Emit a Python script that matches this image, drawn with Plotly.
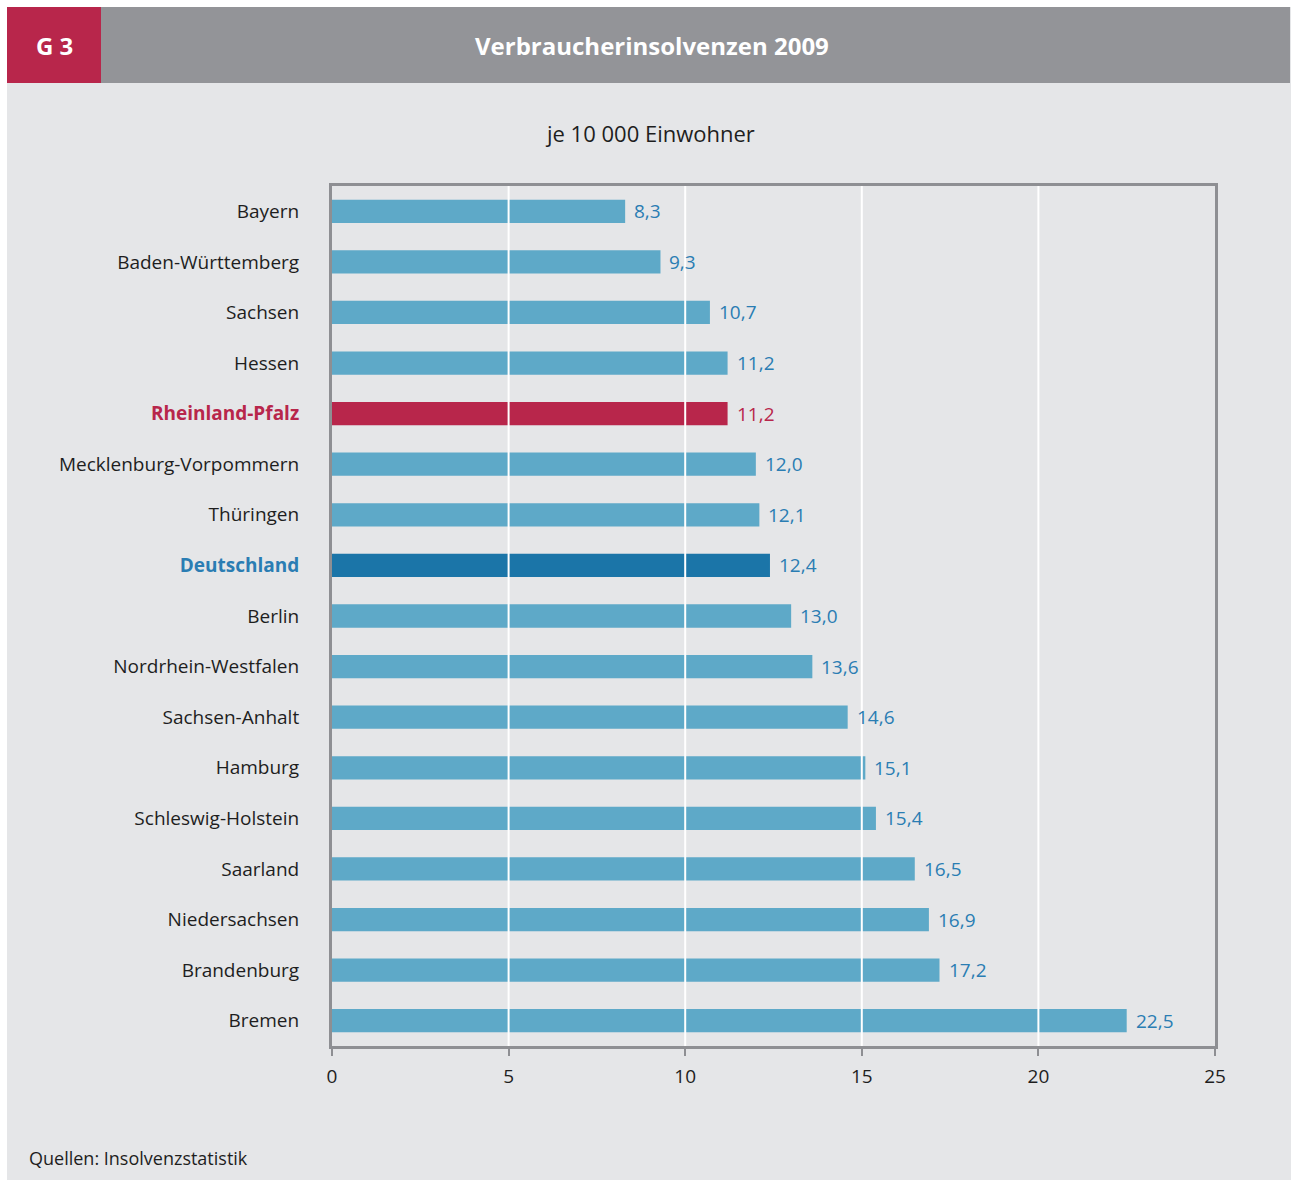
import plotly.graph_objects as go

categories = ["Bayern", "Baden-Württemberg", "Sachsen", "Hessen", "Rheinland-Pfalz",
              "Mecklenburg-Vorpommern", "Thüringen", "Deutschland", "Berlin",
              "Nordrhein-Westfalen", "Sachsen-Anhalt", "Hamburg", "Schleswig-Holstein",
              "Saarland", "Niedersachsen", "Brandenburg", "Bremen"]
values = [8.3, 9.3, 10.7, 11.2, 11.2, 12.0, 12.1, 12.4, 13.0, 13.6, 14.6, 15.1, 15.4,
          16.5, 16.9, 17.2, 22.5]
x_ticks = [0, 5, 10, 15, 20, 25]
title = "Verbraucherinsolvenzen 2009"
subtitle = "je 10 000 Einwohner"
source = "Quellen: Insolvenzstatistik"
badge = "G 3"

RED = "#B8264B"
BAR = "#5EA9C8"
DARKBLUE = "#1B75A8"
LABELBLUE = "#2A7DB3"
TEXT = "#1E1E1E"
BG = "#E5E6E8"
HEADER = "#939498"
FRAME = "#8E8F93"

W, H = 1291, 1180
L, R, T, B = 332, 1215, 186, 1046

bar_colors, text_colors, ticktext = [], [], []
for c in categories:
    if c == "Rheinland-Pfalz":
        bar_colors.append(RED); text_colors.append(RED)
        ticktext.append(f"<span style='color:{RED}'><b>{c}</b></span>")
    elif c == "Deutschland":
        bar_colors.append(DARKBLUE); text_colors.append(LABELBLUE)
        ticktext.append(f"<span style='color:{LABELBLUE}'><b>{c}</b></span>")
    else:
        bar_colors.append(BAR); text_colors.append(LABELBLUE)
        ticktext.append(c)

fig = go.Figure(go.Bar(
    x=values, y=categories, orientation="h",
    marker=dict(color=bar_colors, line=dict(width=0)),
    width=0.46,
    hoverinfo="skip",
))

def px_x(p):
    return (p - L) / (R - L)

def px_y(p):
    return (B - p) / (B - T)

shapes = []
# white outer border
shapes.append(dict(type="rect", xref="paper", yref="paper", x0=px_x(0), x1=px_x(W), y0=px_y(0), y1=px_y(7),
                   fillcolor="white", line=dict(width=0), layer="below"))
shapes.append(dict(type="rect", xref="paper", yref="paper", x0=px_x(0), x1=px_x(7), y0=px_y(0), y1=px_y(H),
                   fillcolor="white", line=dict(width=0), layer="below"))
# header
shapes.append(dict(type="rect", xref="paper", yref="paper", x0=px_x(7), x1=px_x(101), y0=px_y(7), y1=px_y(83),
                   fillcolor=RED, line=dict(width=0), layer="below"))
shapes.append(dict(type="rect", xref="paper", yref="paper", x0=px_x(101), x1=px_x(1290), y0=px_y(7), y1=px_y(83),
                   fillcolor=HEADER, line=dict(width=0), layer="below"))
# white gridlines above bars
for t in x_ticks[1:-1]:
    shapes.append(dict(type="line", xref="x", yref="paper", x0=t, x1=t, y0=0, y1=1,
                       line=dict(color="white", width=2), layer="above"))

annotations = [
    dict(text=f"<b>{badge}</b>", x=px_x(54), y=px_y(45), xref="paper", yref="paper",
         showarrow=False, font=dict(color="white", size=24, family="Open Sans"),
         xanchor="center", yanchor="middle"),
    dict(text=f"<b>{title}</b>", x=px_x(652), y=px_y(45), xref="paper", yref="paper",
         showarrow=False, font=dict(color="white", size=24, family="Open Sans"),
         xanchor="center", yanchor="middle"),
    dict(text=subtitle, x=px_x(650), y=px_y(133), xref="paper", yref="paper",
         showarrow=False, font=dict(color=TEXT, size=22, family="Open Sans"),
         xanchor="center", yanchor="middle"),
    dict(text=source, x=px_x(27), y=px_y(1158), xref="paper", yref="paper",
         showarrow=False, font=dict(color=TEXT, size=18, family="Open Sans"),
         xanchor="left", yanchor="middle"),
]
# value labels (annotations so they sit above the white gridlines)
for c, v, col in zip(categories, values, text_colors):
    annotations.append(dict(text=f"{v:.1f}".replace(".", ","), x=v, y=c, xref="x", yref="y",
                            showarrow=False, xanchor="left", yanchor="middle", xshift=7,
                            font=dict(color=col, size=19, family="Open Sans")))

fig.update_layout(
    width=W, height=H,
    margin=dict(l=L, r=W - R, t=T, b=H - B, pad=0),
    paper_bgcolor=BG, plot_bgcolor=BG,
    showlegend=False,
    shapes=shapes,
    annotations=annotations,
    font=dict(family="Open Sans", color=TEXT, size=19),
    xaxis=dict(range=[0, 25], tickvals=x_ticks, ticktext=[str(t) for t in x_ticks],
               showgrid=False, zeroline=False, showline=True, mirror=True,
               linecolor=FRAME, linewidth=3, ticks="outside", ticklen=7, tickwidth=2,
               tickcolor=FRAME, ticklabelstandoff=4,
               tickfont=dict(size=19, color=TEXT), fixedrange=True),
    yaxis=dict(categoryorder="array", categoryarray=categories, range=[16.5, -0.5],
               tickvals=categories, ticktext=ticktext,
               showgrid=False, zeroline=False, showline=True, mirror=True,
               linecolor=FRAME, linewidth=3, ticks="", ticklabelstandoff=26,
               tickfont=dict(size=19, color=TEXT), fixedrange=True),
)

fig.write_html("out.html", config={"displayModeBar": False},
               post_script="document.body.style.margin='0';document.body.style.overflow='hidden';")
